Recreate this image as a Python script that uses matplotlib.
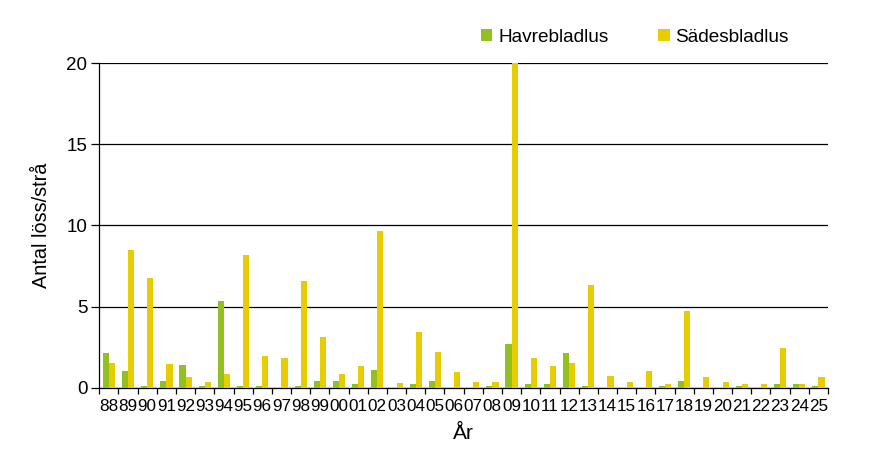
import matplotlib
matplotlib.use("Agg")
import matplotlib.pyplot as plt
import numpy as np

years = ["88","89","90","91","92","93","94","95","96","97","98","99",
         "00","01","02","03","04","05","06","07","08","09","10","11","12",
         "13","14","15","16","17","18","19","20","21","22","23","24","25"]
havrebladlus = [2.12,1.01,0.08,0.39,1.38,0.08,5.33,0.08,0.08,0.0,0.08,0.39,
                0.39,0.2,1.07,0.0,0.2,0.39,0.0,0.0,0.08,2.67,0.2,0.2,2.12,
                0.08,0.0,0.0,0.0,0.08,0.39,0.0,0.0,0.08,0.0,0.2,0.2,0.08]
sadesbladlus = [1.5,8.48,6.75,1.44,0.64,0.33,0.82,8.17,1.93,1.81,6.56,3.11,
                0.82,1.32,9.65,0.27,3.42,2.18,0.95,0.33,0.33,20.0,1.81,1.32,1.5,
                6.32,0.7,0.33,1.01,0.2,4.71,0.64,0.33,0.2,0.2,2.43,0.2,0.64]
yticks = [0, 5, 10, 15, 20]

plt.rcParams['font.family'] = ['Liberation Sans', 'DejaVu Sans']

fig = plt.figure(figsize=(8.85, 4.58), dpi=100)
ax = fig.add_axes([0.1122, 0.1535, 0.8234, 0.7083])

x = np.arange(len(years))
w = 0.32
green = '#92C01F'
yellow = '#E6CC00'
ax.bar(x - w/2, havrebladlus, width=w, color=green, label='Havrebladlus', zorder=3)
ax.bar(x + w/2, sadesbladlus, width=w, color=yellow, label='Sädesbladlus', zorder=3)

ax.set_xlim(-0.5, len(years) - 0.5)
ax.set_ylim(0, 20)
ax.set_yticks(yticks)
ax.set_yticklabels([str(v) for v in yticks], fontsize=13.5)
ax.yaxis.grid(True, color='black', linewidth=0.9, zorder=0)
ax.set_axisbelow(True)

ax.set_xticks(x)
ax.set_xticklabels(years, fontsize=12.3)
ax.set_xticks(np.arange(-0.5, len(years), 1), minor=True)
ax.tick_params(axis='x', which='major', length=0, pad=8)
ax.tick_params(axis='x', which='minor', length=4, width=0.9, direction='out', color='black')
ax.tick_params(axis='y', length=5.5, width=0.9, direction='out', color='black', pad=3)

for s in ['top', 'right']:
    ax.spines[s].set_visible(False)
for s in ['left', 'bottom']:
    ax.spines[s].set_color('black')
    ax.spines[s].set_linewidth(0.9)

ax.set_ylabel('Antal löss/strå', fontsize=14.3, labelpad=11)
ax.set_xlabel('År', fontsize=15, labelpad=7)

leg = fig.legend(loc='center left', bbox_to_anchor=(0.543, 0.919), ncol=2,
                 frameon=False, fontsize=13.7, handlelength=0.62, handleheight=0.62,
                 handletextpad=0.3, columnspacing=2.6, borderpad=0, borderaxespad=0)

fig.savefig('out.png', dpi=100)
